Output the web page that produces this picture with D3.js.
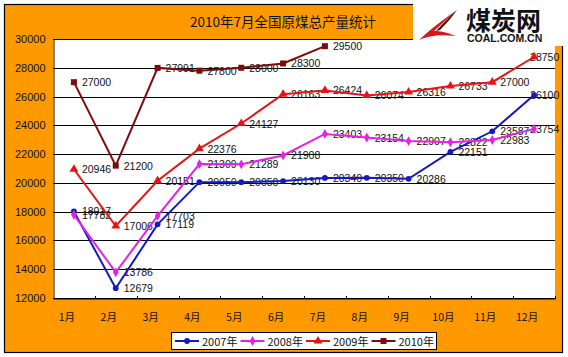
<!DOCTYPE html>
<html><head><meta charset="utf-8">
<script src="https://cdn.jsdelivr.net/npm/d3@7"></script>
<style>
html,body{margin:0;padding:0;background:#fff;}
svg{display:block;}
text{font-family:"Liberation Sans",Arial,"Noto Sans CJK SC",sans-serif;}
.cjk{font-family:"Noto Sans CJK SC","Liberation Sans",sans-serif;}
</style></head>
<body>
<script>
const title = "2010年7月全国原煤总产量统计";
const months = ["1月","2月","3月","4月","5月","6月","7月","8月","9月","10月","11月","12月"];
const yTicks = [12000,14000,16000,18000,20000,22000,24000,26000,28000,30000];
const seriesNames = ["2007年","2008年","2009年","2010年"];
const v2007 = [18017,12679,17119,20050,20050,20130,20340,20350,20286,22151,23587,26100];
const v2008 = [17782,13786,17703,21309,21289,21908,23403,23154,22907,22822,22983,23754];
const v2009 = [20946,17006,20151,22376,24127,26163,26424,26074,26316,26733,27000,28750];
const v2010 = [27000,21200,27991,27800,28000,28300,29500];

const colors = ["#1818c0","#e620e6","#e81414","#7c0c0c"];
const markers = [d3.symbolCircle, d3.symbolDiamond, d3.symbolTriangle, d3.symbolSquare];
const markerSizes = [26, 28, 34, 36];
const allSeries = [v2007, v2008, v2009, v2010];

const W = 568, H = 357;
const svg = d3.select("body").append("svg").attr("width", W).attr("height", H);

// orange frame
svg.append("rect").attr("x",4.5).attr("y",4.5).attr("width",558).attr("height",348)
  .attr("fill","#FF9900").attr("stroke","#000").attr("stroke-width",1.2);

const pL = 53, pR = 555, pT = 39, pB = 298;
const x = d3.scaleBand().domain(months).range([pL, pR]);
const y = d3.scaleLinear().domain([12000, 30000]).range([pB, pT]);
const cx = m => x(m) + x.bandwidth()/2;

// plot area
svg.append("rect").attr("x",pL).attr("y",pT).attr("width",pR-pL).attr("height",pB-pT)
  .attr("fill","#fff");

// gridlines
svg.append("g").selectAll("line").data(yTicks).join("line")
  .attr("x1",pL).attr("x2",pR)
  .attr("y1",d=>Math.round(y(d))+0.5).attr("y2",d=>Math.round(y(d))+0.5)
  .attr("stroke","#000").attr("stroke-width",1);

// y axis
const yAxis = d3.axisLeft(y).tickValues(yTicks).tickSize(0).tickPadding(8).tickFormat(d=>String(d));
const ga = svg.append("g").attr("transform",`translate(${pL+0.5},0)`).call(yAxis);
ga.select(".domain").attr("stroke","#000");
ga.selectAll("text").attr("font-size",11).attr("fill","#111");

// x axis
const xAxis = d3.axisBottom(x).tickSize(0).tickFormat(d=>d);
const gx = svg.append("g").attr("transform",`translate(0,${pB+0.5})`).call(xAxis);
gx.select(".domain").attr("stroke","#000");
gx.selectAll("text").attr("class","cjk").attr("font-size",10.5).attr("fill","#111")
  .attr("dy",0).attr("y",22).attr("dx",-7);
// tick marks at band boundaries
svg.append("g").selectAll("line").data(months).join("line")
  .attr("x1",(d,i)=>Math.round(pL + (i+1)*x.bandwidth())+0.5)
  .attr("x2",(d,i)=>Math.round(pL + (i+1)*x.bandwidth())+0.5)
  .attr("y1",pB-2).attr("y2",pB+1).attr("stroke","#000");

// labels (drawn under the lines, as in the reference)
allSeries.forEach((vals, si) => {
  svg.append("g").selectAll("text").data(vals).join("text")
    .attr("x",(d,i)=>cx(months[i]) + (i===11 ? -4 : 8)).attr("y",d=>y(d)+4)
    .attr("font-size",10.5).attr("fill","#111").text(d=>d);
});

// series
const line = d3.line().x(d=>cx(d.m)).y(d=>y(d.v));
allSeries.forEach((vals, si) => {
  const pts = vals.map((v,i)=>({m:months[i], v}));
  svg.append("path").datum(pts).attr("d",line).attr("fill","none")
    .attr("stroke",colors[si]).attr("stroke-width",2);
  svg.append("g").selectAll("path").data(pts).join("path")
    .attr("transform",d=>`translate(${cx(d.m)},${y(d.v)})`)
    .attr("d",d3.symbol().type(markers[si]).size(markerSizes[si]))
    .attr("fill",colors[si]);
});

// title
svg.append("text").attr("class","cjk").attr("x",283).attr("y",27).attr("text-anchor","middle")
  .attr("font-size",13.5).attr("fill","#111").text(title);

// legend
const lg = svg.append("g");
lg.append("rect").attr("x",171.5).attr("y",332.5).attr("width",265).attr("height",17)
  .attr("fill","#fff").attr("stroke","#000");
seriesNames.forEach((n,i)=>{
  const lx = 175 + i*65.5;
  lg.append("line").attr("x1",lx).attr("x2",lx+24).attr("y1",341).attr("y2",341)
    .attr("stroke",colors[i]).attr("stroke-width",2);
  lg.append("path").attr("transform",`translate(${lx+12},341)`)
    .attr("d",d3.symbol().type(markers[i]).size(markerSizes[i])).attr("fill",colors[i]);
  lg.append("text").attr("class","cjk").attr("x",lx+27).attr("y",345.5)
    .attr("font-size",11).attr("fill","#111").text(n);
});

// logo area
const logo = svg.append("g");
logo.append("rect").attr("x",413).attr("y",0).attr("width",155).attr("height",46).attr("fill","#fff");
logo.append("path").attr("d","M457,10 C448,16 432,28 419,40 C428,36 440,34 456,36 C446,32 440,31 434,31 C442,24 450,16 457,10 Z")
  .attr("fill","#d81818");
logo.append("path").attr("d","M457,10 C452,17 446,24 440,30 L436,31 C443,24 450,16 457,10 Z").attr("fill","#3a0a0a");
logo.append("text").attr("class","cjk").attr("x",466).attr("y",30).attr("font-size",25)
  .attr("font-weight","bold").attr("fill","#111").text("煤炭网");
logo.append("text").attr("x",467).attr("y",42).attr("font-size",10.5).attr("font-weight","bold")
  .attr("fill","#111").text("COAL.COM.CN");
</script>
</body></html>
